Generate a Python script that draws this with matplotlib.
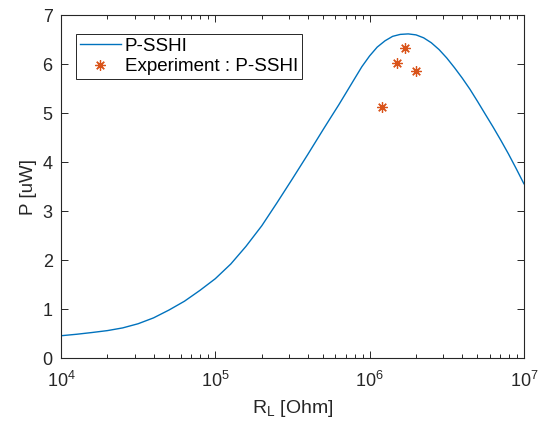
import numpy as np
import matplotlib
matplotlib.use('Agg')
import matplotlib.pyplot as plt
from matplotlib.ticker import LogLocator, NullFormatter

plt.rcParams['font.family'] = ['Liberation Sans', 'DejaVu Sans']
plt.rcParams['mathtext.fontset'] = 'custom'
plt.rcParams['mathtext.rm'] = 'Liberation Sans'
plt.rcParams['mathtext.it'] = 'Liberation Sans'

# P-SSHI model curve
r_model = [1.00e4, 1.26e4, 1.58e4, 2.00e4, 2.51e4, 3.16e4, 3.98e4, 5.01e4,
           6.31e4, 7.94e4, 1.00e5, 1.26e5, 1.58e5, 2.00e5, 2.51e5, 3.16e5,
           3.98e5, 5.01e5, 5.62e5, 6.31e5, 7.08e5, 7.94e5, 8.91e5, 1.00e6,
           1.12e6, 1.26e6, 1.41e6, 1.58e6, 1.78e6, 2.00e6, 2.24e6, 2.51e6,
           2.82e6, 3.16e6, 3.55e6, 3.98e6, 4.47e6, 5.01e6, 5.62e6, 6.31e6,
           7.08e6, 7.94e6, 8.91e6, 1.00e7]
p_model = [0.455, 0.485, 0.52, 0.56, 0.615, 0.70, 0.82, 0.98,
           1.16, 1.38, 1.62, 1.92, 2.28, 2.70, 3.17, 3.66,
           4.16, 4.67, 4.92, 5.17, 5.43, 5.69, 5.95, 6.17,
           6.35, 6.48, 6.57, 6.61, 6.62, 6.60, 6.54, 6.44,
           6.30, 6.13, 5.93, 5.72, 5.49, 5.24, 4.98, 4.72,
           4.45, 4.17, 3.87, 3.56]

# measured points
r_exp = [1.2e6, 1.5e6, 1.7e6, 2.0e6]
p_exp = [5.12, 6.02, 6.34, 5.87]

fig = plt.figure(figsize=(5.48, 4.25), dpi=100, facecolor='white')
ax = fig.add_axes([0.1113, 0.1576, 0.8447, 0.8064])

ax.plot(r_model, p_model, color='#0072BD', lw=1.0, label='P-SSHI')
ax.plot(r_exp, p_exp, ls='none', marker=(8, 2, 0), color='#D95319', ms=7.5,
        mew=0.9, label='Experiment : P-SSHI')

ax.set_xscale('log')
ax.set_xlim(1e4, 1e7)
ax.set_ylim(0, 7)
ax.set_yticks(range(0, 8))
ax.xaxis.set_minor_locator(LogLocator(base=10, subs=np.arange(2, 10)))
ax.xaxis.set_minor_formatter(NullFormatter())

ax.tick_params(which='both', direction='in', top=True, right=True,
               labelsize=13, color='#262626', labelcolor='#262626', width=0.7)
ax.tick_params(which='major', length=5)
ax.tick_params(which='minor', length=3)
ax.tick_params(axis='x', pad=9)
ax.tick_params(axis='y', pad=6)
for s in ax.spines.values():
    s.set_color('#262626')
    s.set_linewidth(0.8)

ax.set_xlabel(r'R$_\mathregular{L}$ [Ohm]', fontsize=14, color='#262626',
              labelpad=5)
ax.set_ylabel('P [uW]', fontsize=13.5, color='#262626', labelpad=4)

leg = ax.legend(loc='upper left', bbox_to_anchor=(0.0324, 0.9455),
                borderaxespad=0, fontsize=13.5, fancybox=False,
                edgecolor='#262626', framealpha=1, handlelength=2.2,
                borderpad=0.2, labelspacing=0.17, handletextpad=0.2)
leg.get_frame().set_linewidth(0.7)

fig.savefig('out.png', dpi=100)
